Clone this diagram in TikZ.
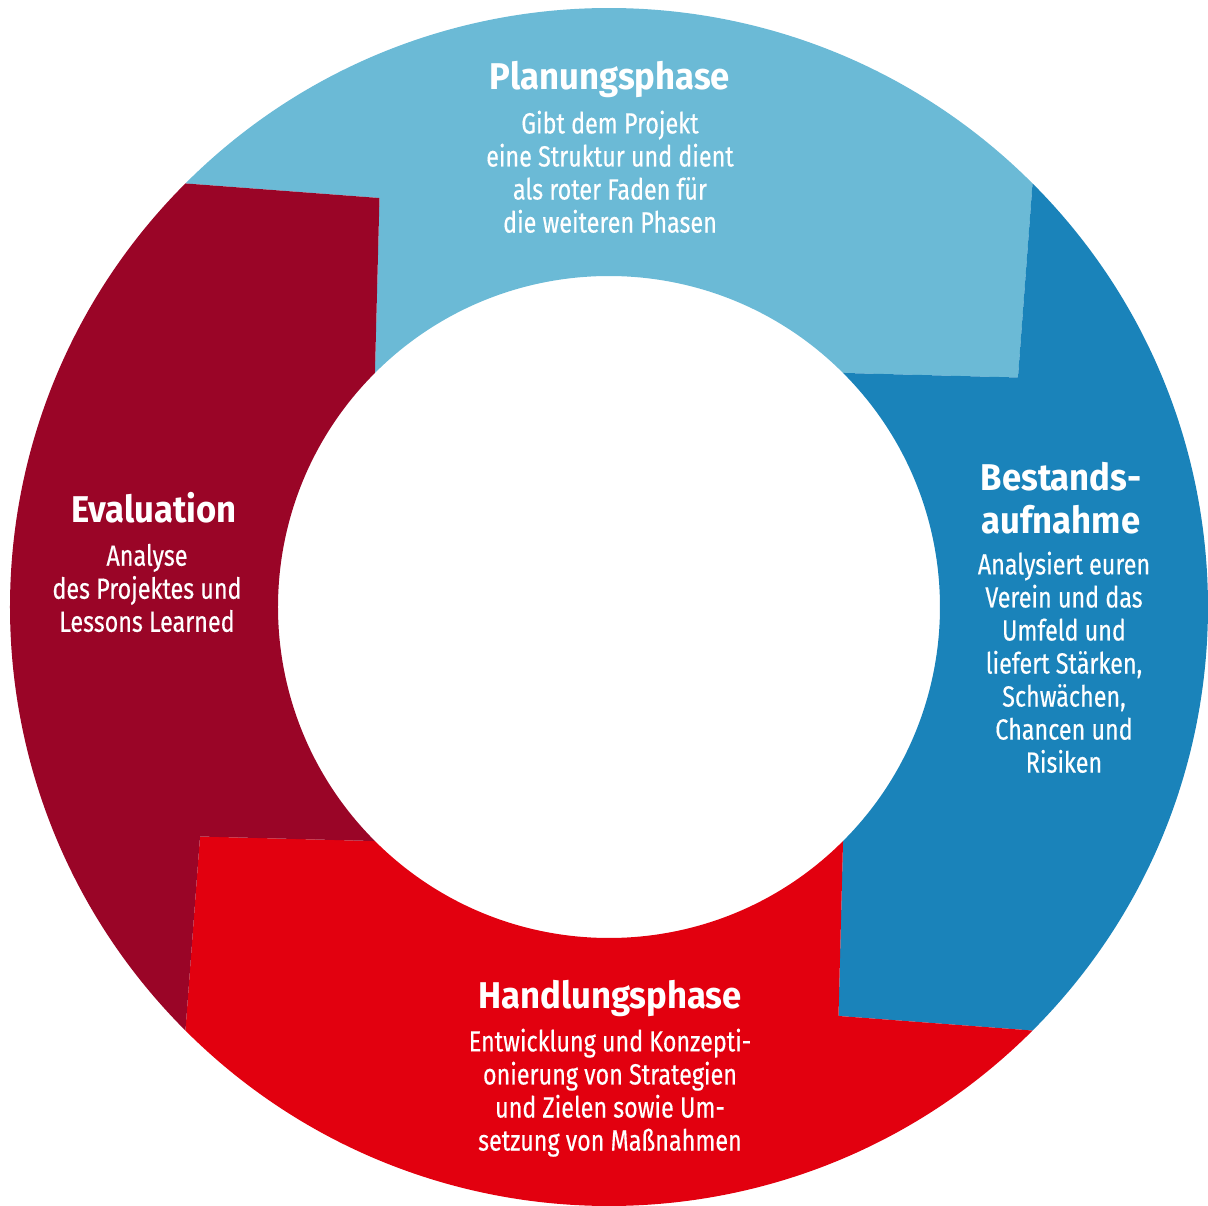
\documentclass[tikz,border=0pt]{standalone}
\usepackage{fontspec}
\usepackage{tikz}
\usetikzlibrary{positioning}
\usepackage{xcolor}
\newfontfamily\headfont{Fira Sans}[FakeStretch=0.93]
\newfontfamily\bodyfont{Fira Sans}[FakeStretch=0.8,FakeBold=0.4]
\definecolor{planblue}{HTML}{6BBAD6}
\definecolor{bestblue}{HTML}{1A83BA}
\definecolor{handred}{HTML}{E2000F}
\definecolor{evalred}{HTML}{9A0527}
\newcommand{\rOut}{5.99}
\newcommand{\rIn}{3.31}
\newcommand{\rTip}{4.69}

\begin{document}
\begin{tikzpicture}[phasetitle/.style={text=white,inner sep=0pt,align=center,font=\headfont\bfseries\fontsize{10.6}{12.4}\selectfont},
    phasetext/.style={text=white,inner sep=0pt,align=center,font=\bodyfont\fontsize{8.3}{9.4}\selectfont}]

            % Keep the size of the reference picture
            \useasboundingbox (-6.09,-5.99) rectangle (5.99,6.07);

            % The four segments of the ring
            \fill[planblue] (135:\rOut) arc[start angle=135,end angle=45,radius=\rOut] -- (29.3:\rTip)
                -- (45:\rIn) arc[start angle=45,end angle=135,radius=\rIn] -- (119.3:\rTip) -- cycle;
            \fill[bestblue] (45:\rOut) arc[start angle=45,end angle=-45,radius=\rOut] -- (-60.7:\rTip)
                -- (-45:\rIn) arc[start angle=-45,end angle=45,radius=\rIn] -- (29.3:\rTip) -- cycle;
            \fill[handred] (-45:\rOut) arc[start angle=-45,end angle=-135,radius=\rOut] -- (-150.7:\rTip)
                -- (-135:\rIn) arc[start angle=-135,end angle=-45,radius=\rIn] -- (-60.7:\rTip) -- cycle;
            \fill[evalred] (-135:\rOut) arc[start angle=-135,end angle=-225,radius=\rOut] -- (119.3:\rTip)
                -- (-225:\rIn) arc[start angle=-225,end angle=-135,radius=\rIn] -- (-150.7:\rTip) -- cycle;

            % Titles
            \node[phasetitle] (plan) at (0.01,5.28) {Planungsphase};
            \node[phasetitle] (best) at (4.52,1.09) {Bestands-\\aufnahme};
            \node[phasetitle] (eval) at (-4.55,0.99) {Evaluation};
            \node[phasetitle] (hand) at (0.01,-3.91) {Handlungsphase};

            % Texts below the titles
            \node[phasetext,below=1.2mm of plan] (plantext) {Gibt dem Projekt\\eine Struktur und dient\\als roter Faden für\\die weiteren Phasen};
            \node[phasetext,below=1.6mm of best,xshift=0.3mm] (besttext) {Analysiert euren\\Verein und das\\Umfeld und\\liefert Stärken,\\Schwächen,\\Chancen und\\Risiken};
            \node[phasetext,below=1.9mm of eval,xshift=-0.7mm] (evaltext) {Analyse\\des Projektes und\\Lessons Learned};
            \node[phasetext,below=1.1mm of hand] (handtext) {Entwicklung und Konzepti-\\onierung von Strategien\\und Zielen sowie Um-\\setzung von Maßnahmen};

            \end{tikzpicture}
\end{document}
